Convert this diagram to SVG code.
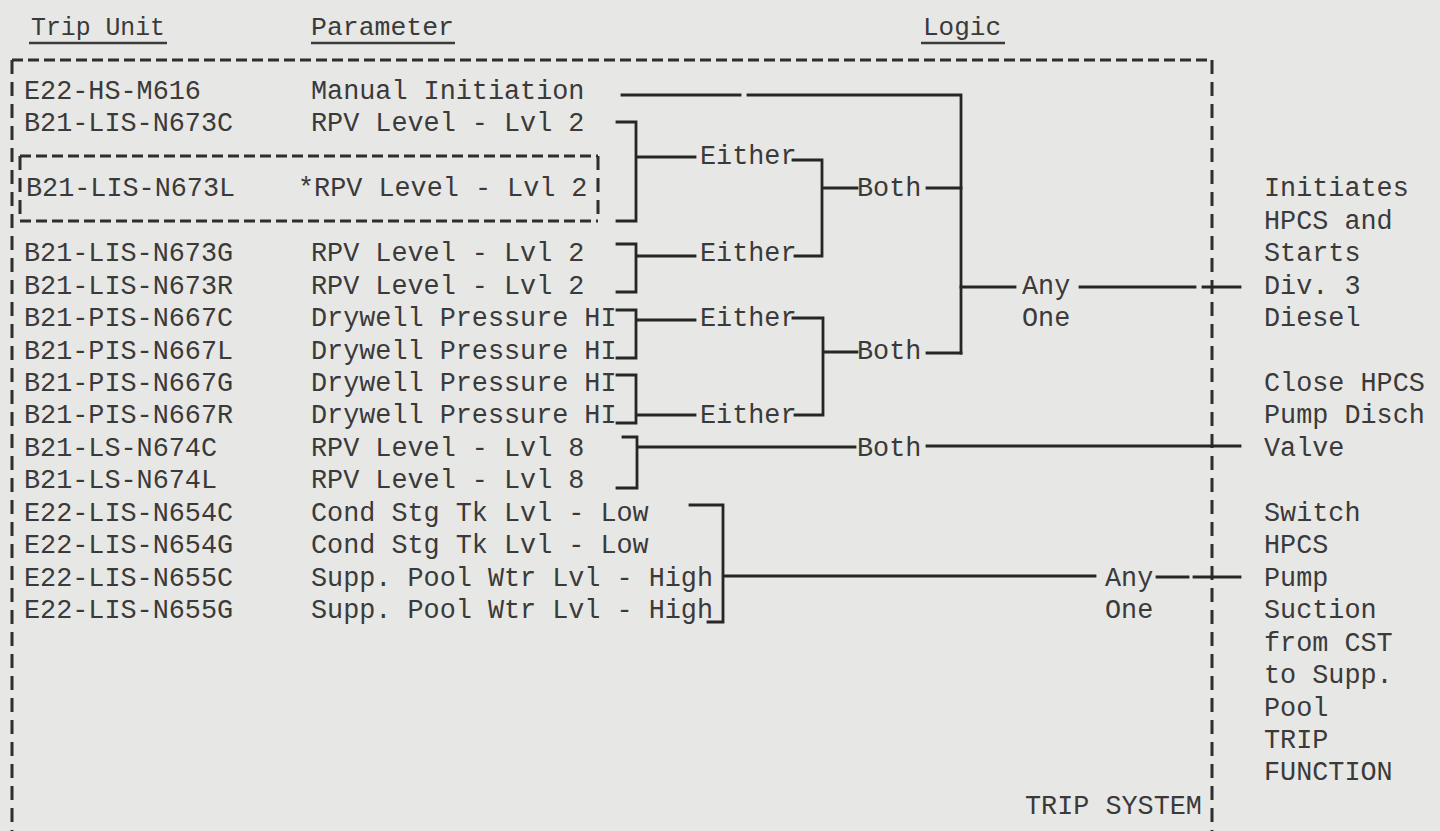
<svg xmlns="http://www.w3.org/2000/svg" width="1440" height="831" viewBox="0 0 1440 831">
<style>
text{font-family:"Liberation Mono","DejaVu Sans Mono",monospace;font-size:26.8px;fill:#3a3a3a}
.hd{font-size:26px}
.ln{fill:none;stroke:#262626;stroke-width:2.8;stroke-linecap:square}
.ul{fill:none;stroke:#3a3a3a;stroke-width:2.4}
.dh{fill:none;stroke:#2e2e2e;stroke-width:3;stroke-dasharray:11 5}
.dv{fill:none;stroke:#2e2e2e;stroke-width:3;stroke-dasharray:14 8}
</style>
<rect width="1440" height="831" fill="#e7e7e5"/>

<g id="headers">
<text class="hd" x="31" y="35" textLength="134" lengthAdjust="spacingAndGlyphs">Trip Unit</text>
<path class="ul" d="M29,43 H167"/>
<text class="hd" x="311" y="35" textLength="143" lengthAdjust="spacingAndGlyphs">Parameter</text>
<path class="ul" d="M311,43 H455"/>
<text class="hd" x="923" y="35" textLength="78" lengthAdjust="spacingAndGlyphs">Logic</text>
<path class="ul" d="M921,43 H1005"/>
</g>

<g id="trip-system">
<path class="dh" d="M12,60 H1212"/>
<path class="dv" d="M12,60 V831"/>
<path class="dv" d="M1212,60 V831"/>
<text x="1025" y="814">TRIP SYSTEM</text>
</g>

<g id="inner-box">
<path class="dh" d="M20,156 H598"/>
<path class="dh" d="M20,221 H598"/>
<path class="dv" d="M20,156 V221"/>
<path class="dv" d="M598,156 V221"/>
</g>

<g id="inputs">
<g id="row-E22-HS-M616"><text x="24" y="99">E22-HS-M616</text><text x="311" y="99">Manual Initiation</text></g>
<g id="row-B21-LIS-N673C"><text x="24" y="131">B21-LIS-N673C</text><text x="311" y="131">RPV Level - Lvl 2</text></g>
<g id="row-B21-LIS-N673L"><text x="26" y="196">B21-LIS-N673L</text><text x="298" y="196">*RPV Level - Lvl 2</text></g>
<g id="row-B21-LIS-N673G"><text x="24" y="261">B21-LIS-N673G</text><text x="311" y="261">RPV Level - Lvl 2</text></g>
<g id="row-B21-LIS-N673R"><text x="24" y="294">B21-LIS-N673R</text><text x="311" y="294">RPV Level - Lvl 2</text></g>
<g id="row-B21-PIS-N667C"><text x="24" y="326">B21-PIS-N667C</text><text x="311" y="326">Drywell Pressure HI</text></g>
<g id="row-B21-PIS-N667L"><text x="24" y="359">B21-PIS-N667L</text><text x="311" y="359">Drywell Pressure HI</text></g>
<g id="row-B21-PIS-N667G"><text x="24" y="391">B21-PIS-N667G</text><text x="311" y="391">Drywell Pressure HI</text></g>
<g id="row-B21-PIS-N667R"><text x="24" y="423">B21-PIS-N667R</text><text x="311" y="423">Drywell Pressure HI</text></g>
<g id="row-B21-LS-N674C"><text x="24" y="456">B21-LS-N674C</text><text x="311" y="456">RPV Level - Lvl 8</text></g>
<g id="row-B21-LS-N674L"><text x="24" y="488">B21-LS-N674L</text><text x="311" y="488">RPV Level - Lvl 8</text></g>
<g id="row-E22-LIS-N654C"><text x="24" y="521">E22-LIS-N654C</text><text x="311" y="521">Cond Stg Tk Lvl - Low</text></g>
<g id="row-E22-LIS-N654G"><text x="24" y="553">E22-LIS-N654G</text><text x="311" y="553">Cond Stg Tk Lvl - Low</text></g>
<g id="row-E22-LIS-N655C"><text x="24" y="586">E22-LIS-N655C</text><text x="311" y="586">Supp. Pool Wtr Lvl - High</text></g>
<g id="row-E22-LIS-N655G"><text x="24" y="618">E22-LIS-N655G</text><text x="311" y="618">Supp. Pool Wtr Lvl - High</text></g>
</g>

<g id="logic">
<g id="either-1"><text x="700" y="164">Either</text></g>
<g id="both-1"><text x="857" y="196">Both</text></g>
<g id="either-2"><text x="700" y="261">Either</text></g>
<g id="any-1"><text x="1022" y="294">Any</text><text x="1022" y="326">One</text></g>
<g id="either-3"><text x="700" y="326">Either</text></g>
<g id="both-2"><text x="857" y="359">Both</text></g>
<g id="either-4"><text x="700" y="423">Either</text></g>
<g id="both-3"><text x="857" y="456">Both</text></g>
<g id="any-2"><text x="1105" y="586">Any</text><text x="1105" y="618">One</text></g>
</g>

<g id="outputs">
<g id="out-initiate">
<text x="1264" y="196">Initiates</text>
<text x="1264" y="229">HPCS and</text>
<text x="1264" y="261">Starts</text>
<text x="1264" y="294">Div. 3</text>
<text x="1264" y="326">Diesel</text>
</g>
<g id="out-close">
<text x="1264" y="391">Close HPCS</text>
<text x="1264" y="423">Pump Disch</text>
<text x="1264" y="456">Valve</text>
</g>
<g id="out-switch">
<text x="1264" y="521">Switch</text>
<text x="1264" y="553">HPCS</text>
<text x="1264" y="586">Pump</text>
<text x="1264" y="618">Suction</text>
<text x="1264" y="651">from CST</text>
<text x="1264" y="683">to Supp.</text>
<text x="1264" y="716">Pool</text>
<text x="1264" y="748">TRIP</text>
<text x="1264" y="780">FUNCTION</text>
</g>
</g>

<g id="connectors">
<path class="ln" d="M622,95 H740 M748,95 H961 V353"/>
<path class="ln" d="M617,122 H636 V221 H617 M636,157 H695"/>
<path class="ln" d="M793,160 H822 V256 H795 M822,188 H857"/>
<path class="ln" d="M927,188 H961"/>
<path class="ln" d="M617,244 H636 V292 H617 M636,256 H695"/>
<path class="ln" d="M961,287 H1015 M1080,287 H1195 M1203,287 H1240"/>
<path class="ln" d="M617,310 H636 V358 H617 M636,320 H695"/>
<path class="ln" d="M793,318 H823 V415 H795 M823,352 H857"/>
<path class="ln" d="M927,353 H961"/>
<path class="ln" d="M617,375 H636 V423 H617 M636,415 H695"/>
<path class="ln" d="M623,437 H637 V488 H617 M637,447 H855 M927,446 H1240"/>
<path class="ln" d="M690,505 H723 V622 H708 M723,576 H1095 M1157,577 H1188 M1194,577 H1240"/>
</g>
</svg>
